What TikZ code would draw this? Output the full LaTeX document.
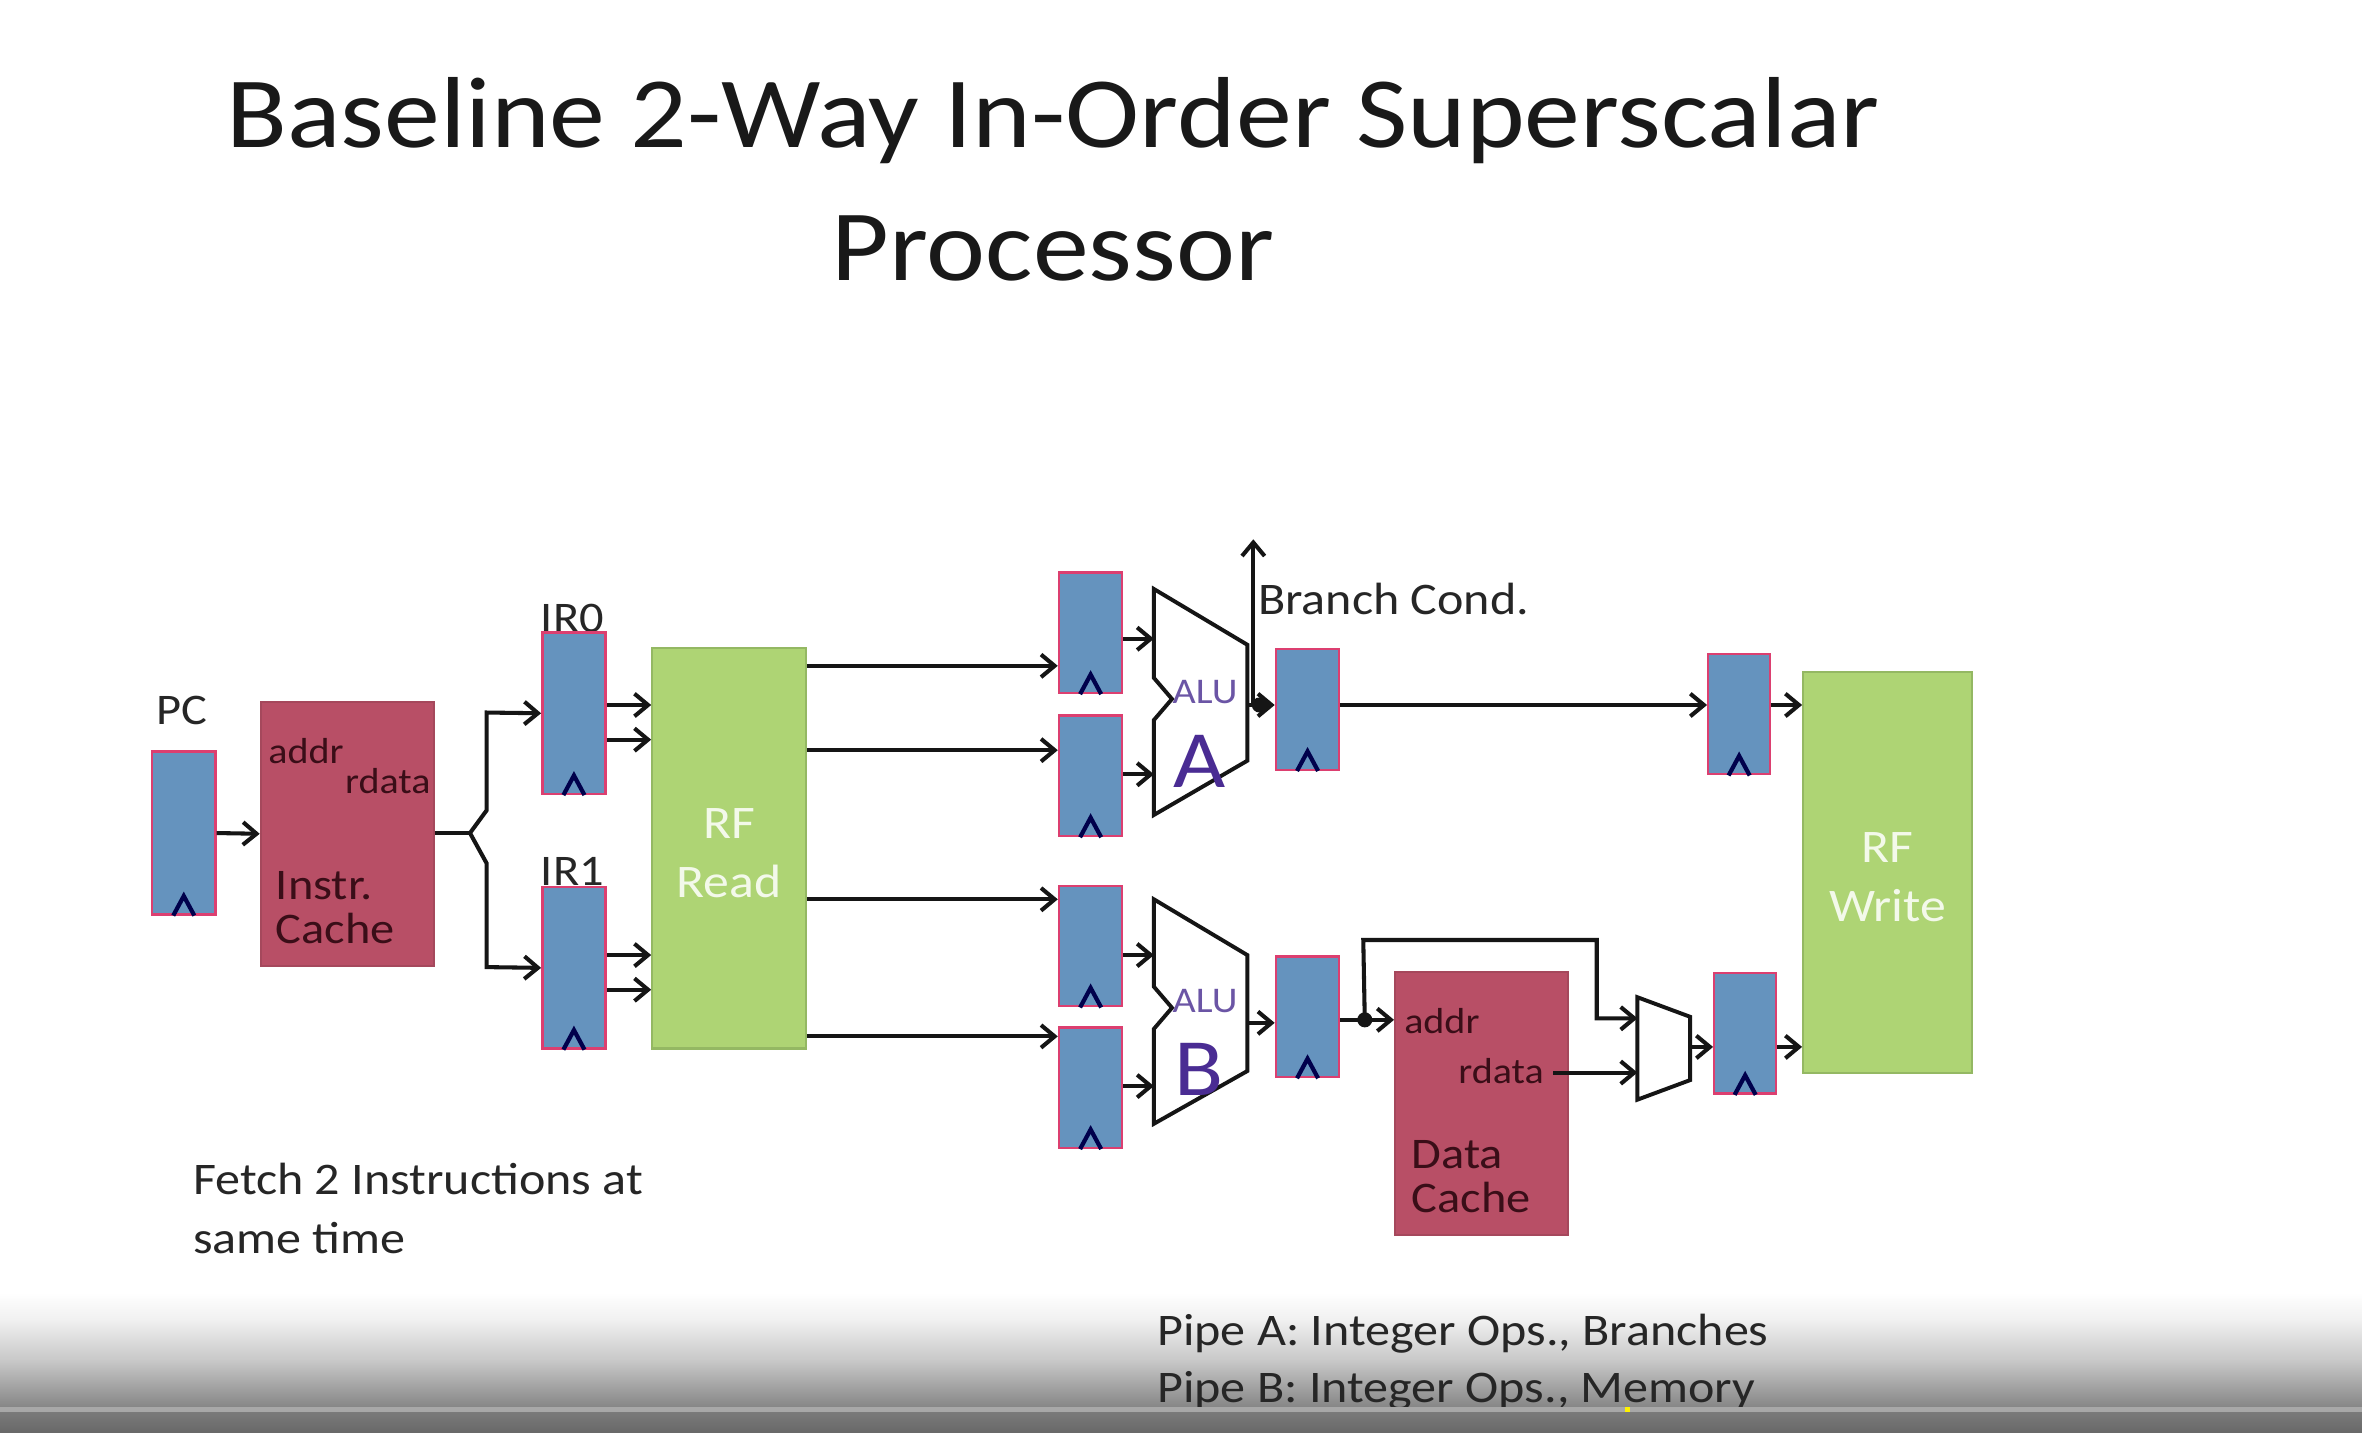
\documentclass[tikz,border=0pt]{standalone}
\usepackage{fontspec}
\setmainfont[FakeStretch=1.108]{Carlito}
\usetikzlibrary{arrows.meta,calc}
\definecolor{regblue}{HTML}{6593BE}
\definecolor{regedge}{HTML}{DC3F70}
\definecolor{cachered}{HTML}{B84F66}
\definecolor{cacheedge}{HTML}{A5485C}
\definecolor{rfgreen}{HTML}{AED474}
\definecolor{rfedge}{HTML}{94B863}
\definecolor{inkline}{HTML}{151515}
\definecolor{alupale}{HTML}{6B55A5}
\definecolor{aludark}{HTML}{4A2C93}
\definecolor{cachetext}{HTML}{3A0E18}
\definecolor{fadea}{HTML}{F0F0F0}
\definecolor{fadeb}{HTML}{C8C8C8}
\definecolor{fadec}{HTML}{868686}
\definecolor{barlight}{HTML}{A8A8A8}
\definecolor{bartop}{HTML}{7A7A7A}
\definecolor{barbot}{HTML}{686868}
\tikzset{
  x=1pt,y=-1pt,
  reg/.style={draw=regedge,fill=regblue,line width=1.6pt,inner sep=0pt,minimum width=42pt},
  cachebox/.style={draw=cacheedge,fill=cachered,line width=1.2pt,inner sep=0pt,minimum width=115pt,minimum height=175pt},
  rfbox/.style={draw=rfedge,fill=rfgreen,line width=1.4pt,inner sep=0pt},
  wire/.style={draw=inkline,line width=2.7pt},
  arrow/.style={wire,-{Straight Barb[length=9pt,width=15pt,line width=2.7pt]}},
  outline/.style={draw=inkline,line width=2.6pt,fill=white,line join=miter},
  clock/.style={draw=black!70!blue,line width=2.8pt},
  dot/.style={circle,fill=inkline,inner sep=0pt,minimum size=10pt},
  lab/.style={inner sep=0pt,anchor=base west,text=black!85},
  ctext/.style={inner sep=0pt,anchor=base west,text=cachetext},
  rftext/.style={inner sep=0pt,align=center,text=white!85!rfgreen}
}
\newcommand{\RegBox}[5]{%
  \node[reg,minimum width=#4pt,minimum height=#5pt] (#1) at (#2,#3) {};
  \draw[clock] ($(#1.south)+(-7,0)$) -- ++(7,-13) -- ++(7,13);
}
\begin{document}
\begin{tikzpicture}
\useasboundingbox (0,0) rectangle (1568,951);
\fill[white] (0,0) rectangle (1568,951);
% bottom fade
\shade[top color=white,bottom color=fadea] (0,858) rectangle (1568,876.2);
\shade[top color=fadea,bottom color=fadeb] (0,876) rectangle (1568,903.2);
\shade[top color=fadeb,bottom color=fadec] (0,903) rectangle (1568,934);

% title
\node[inner sep=0pt,align=center,text=black!90,font=\fontsize{67}{88.5}\selectfont] (title) at (699,119)
  {Baseline 2-Way In-Order Superscalar\\Processor};

% upper labels that the registers partly cover
\node[lab,anchor=base,font=\fontsize{29}{29}\selectfont] (lir0) at (380,420) {IR0};
\node[lab,anchor=base,font=\fontsize{29}{29}\selectfont] (lir1) at (380,588) {IR1};
\node[lab,anchor=base,font=\fontsize{29}{29}\selectfont] (lpc) at (121,481) {PC};

% registers
\RegBox{pc}{122}{553}{42}{108}
\RegBox{ir0}{381}{473.5}{42}{107}
\RegBox{ir1}{381}{642.5}{42}{107}
\RegBox{ra1}{724}{420}{42}{80}
\RegBox{ra2}{724}{515}{42}{80}
\RegBox{rb1}{724}{628}{42}{80}
\RegBox{rb2}{724}{722}{42}{80}
\RegBox{xa}{868}{471}{42}{80}
\RegBox{xb}{868}{675}{42}{80}
\RegBox{wa}{1154.5}{474}{41}{80}
\RegBox{wb}{1158.5}{686}{41}{80}

% caches
\node[cachebox] (ic) at (230.5,553.5) {};
\node[cachebox] (dc) at (983.5,732.5) {};
\node[ctext,font=\fontsize{24}{24}\selectfont] (icaddr) at (178,507) {addr};
\node[ctext,anchor=base east,font=\fontsize{24}{24}\selectfont] (icrd) at (286,527) {rdata};
\node[ctext,font=\fontsize{29}{29}\selectfont] (ici) at (183,597) {Instr.};
\node[ctext,font=\fontsize{29}{29}\selectfont] (icc) at (183,626) {Cache};
\node[ctext,font=\fontsize{24}{24}\selectfont] (dcaddr) at (932,686) {addr};
\node[ctext,anchor=base east,font=\fontsize{24}{24}\selectfont] (dcrd) at (1025,719) {rdata};
\node[ctext,font=\fontsize{29}{29}\selectfont] (dcd) at (937,776) {Data};
\node[ctext,font=\fontsize{29}{29}\selectfont] (dcc) at (937,805) {Cache};

% register files
\node[rfbox,minimum width=102pt,minimum height=266pt] (rfr) at (484,563) {};
\node[rfbox,minimum width=112pt,minimum height=266pt] (rfw) at (1253,579) {};
\node[rftext,font=\fontsize{31}{39}\selectfont] (rfrt) at (484,566.5) {RF\\Read};
\node[rftext,font=\fontsize{31}{39}\selectfont] (rfwt) at (1253,582.5) {RF\\Write};

% ALUs
\draw[outline] (766,391) -- (828,428) -- (828,505) -- (766,541) -- (766,478) -- (778,464) -- (766,450) -- cycle;
\draw[outline] (766,597) -- (828,634) -- (828,711) -- (766,746) -- (766,683) -- (778,669) -- (766,655) -- cycle;
\coordinate (aluaout) at (828,468);
\coordinate (alubout) at (828,679);
\coordinate (aluaa) at (766,424);
\coordinate (aluab) at (766,514);
\coordinate (aluba) at (766,634);
\coordinate (alubb) at (766,721);
\node[inner sep=0pt,anchor=base,text=alupale,font=\fontsize{24}{24}\selectfont] (ala) at (800,467) {ALU};
\node[inner sep=0pt,anchor=base,text=alupale,font=\fontsize{24}{24}\selectfont] (alb) at (800,672) {ALU};
\node[inner sep=0pt,anchor=base,text=aludark,font=\fontsize{54}{54}\selectfont] (lA) at (796,523) {A};
\node[inner sep=0pt,anchor=base,text=aludark,font=\fontsize{54}{54}\selectfont] (lB) at (796,727) {B};

% mux
\draw[outline] (1087,662) -- (1122,675) -- (1122,717) -- (1087,730) -- cycle;
\coordinate (muxa) at (1087,676);
\coordinate (muxb) at (1087,712);
\coordinate (muxo) at (1122,695);

% connectors
\draw[arrow] (pc.east) -- (ic.west);
\coordinate (fork) at (312,553);
\draw[wire] (ic.east |- fork) -- (fork);
\draw[arrow] (fork) -- (323,538) -- (323,473) -- (ir0.west);
\draw[arrow] (fork) -- (323,573) -- (323,642) -- (ir1.west);
\foreach \s/\y in {ir0/468,ir0/491,ir1/634,ir1/657}
  \draw[arrow] (\s.east |- 0,\y) -- (rfr.west |- 0,\y);
\draw[arrow] (rfr.east |- 0,442) -- (ra1.west |- 0,442);
\draw[arrow] (rfr.east |- 0,498) -- (ra2.west |- 0,498);
\draw[arrow] (rfr.east |- 0,597) -- (rb1.west |- 0,597);
\draw[arrow] (rfr.east |- 0,688) -- (rb2.west |- 0,688);
\draw[arrow] (ra1.east |- aluaa) -- (aluaa);
\draw[arrow] (ra2.east |- aluab) -- (aluab);
\draw[arrow] (rb1.east |- aluba) -- (aluba);
\draw[arrow] (rb2.east |- alubb) -- (alubb);
\node[dot] (da) at (836,468) {};
\coordinate (bc) at (832,358);
\draw[arrow] (da.center -| bc) -- (bc);
\draw[arrow] (aluaout) -- (xa.west |- aluaout);
\draw[arrow] (alubout) -- (xb.west |- alubout);
\draw[arrow] (xa.east |- 0,468) -- (wa.west |- 0,468);
\draw[arrow] (wa.east |- 0,468) -- (rfw.west |- 0,468);
\draw[arrow] (xb.east |- 0,677) -- (dc.west |- 0,677);
\node[dot] (db) at (906,677) {};
\draw[arrow] (db.center) -- (905,624) -- (1060,624) -- (1060,676) -- (muxa);
\draw[arrow] (1031,712) -- (muxb);
\draw[arrow] (muxo) -- (wb.west |- muxo);
\draw[arrow] (wb.east |- muxo) -- (rfw.west |- muxo);

% captions
\node[lab,font=\fontsize{30}{30}\selectfont] (bcl) at (835,408) {Branch Cond.};
\node[lab,font=\fontsize{30}{30}\selectfont] (f1) at (128,793) {Fetch 2 Instructions at};
\node[lab,font=\fontsize{30}{30}\selectfont] (f2) at (128,832) {same time};
\node[lab,font=\fontsize{30}{30}\selectfont] (p1) at (768,893) {Pipe A: Integer Ops., Branches};
\node[lab,font=\fontsize{30}{30}\selectfont] (p2) at (768,931) {Pipe B: Integer Ops., Memory};

% video bar
\fill[barlight] (0,933.7) rectangle (1568,937.5);
\shade[top color=bartop,bottom color=barbot] (0,937.5) rectangle (1568,951);
\fill[yellow] (1079,933.7) rectangle (1082,937.5);
\end{tikzpicture}
\end{document}
